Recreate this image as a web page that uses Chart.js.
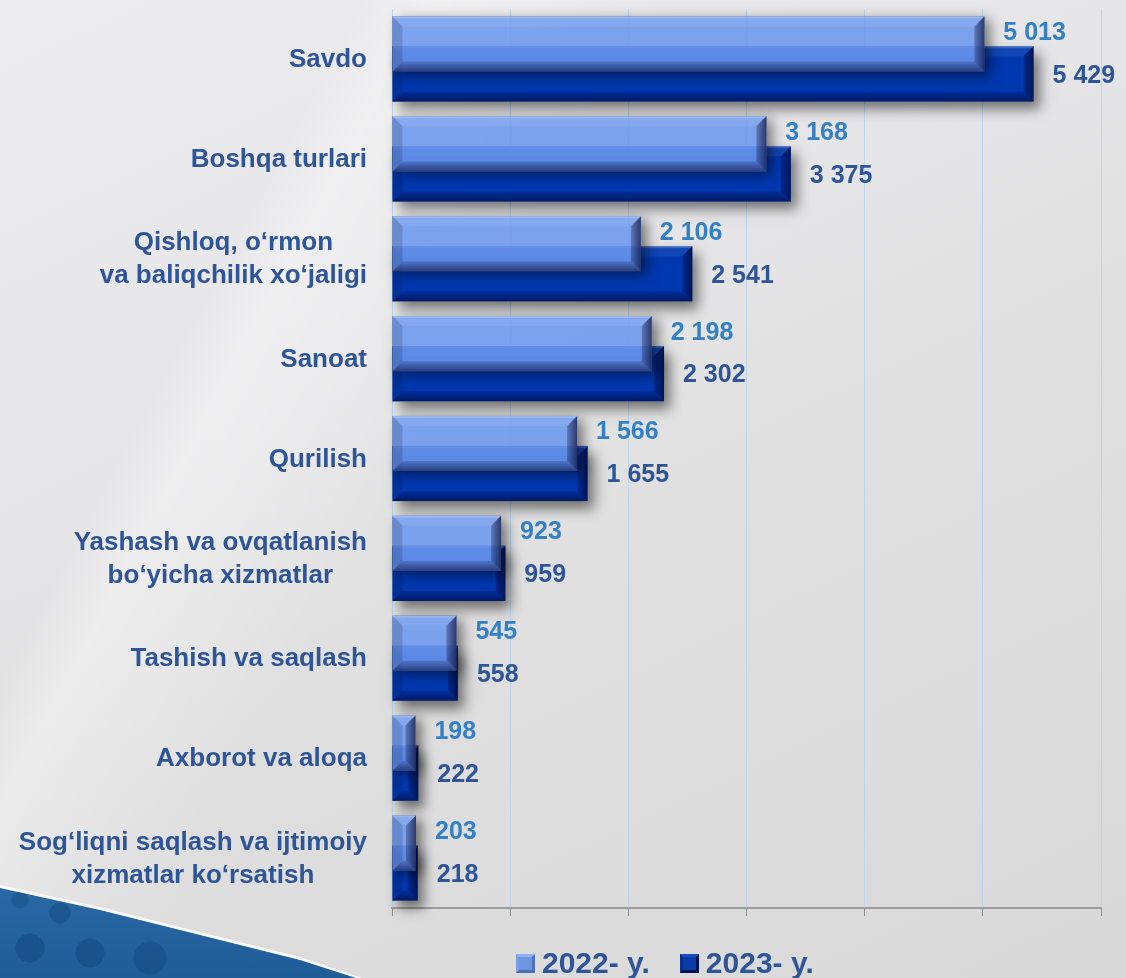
<!DOCTYPE html>
<html>
<head>
<meta charset="utf-8">
<script src="https://cdn.jsdelivr.net/npm/chart.js@4.4.1/dist/chart.umd.min.js"></script>
<style>
  html, body { margin: 0; padding: 0; }
  body {
    width: 1126px; height: 978px; position: relative; overflow: hidden;
    background: linear-gradient(155deg, #ececee 0%, #e6e6e8 35%, #dedede 60%, #d9d9d9 100%);
    font-family: "Liberation Sans", Arial, sans-serif;
  }
  #sheen {
    position: absolute; left: 0; top: 0; width: 1126px; height: 978px;
    background: linear-gradient(118deg, rgba(255,255,255,0) 0%, rgba(255,255,255,0) 22%, rgba(255,255,255,0.35) 26%, rgba(255,255,255,0) 40%);
  }
  #edge {
    position: absolute; left: 0; top: 876px; width: 420px; height: 102px;
    clip-path: polygon(0px 9px, 100px 31px, 200px 56px, 300px 81px, 362px 102px, 0px 102px);
    background: rgba(255,255,255,0.8);
  }
  #ornament {
    position: absolute; left: 0; top: 878px; width: 420px; height: 100px;
    clip-path: polygon(0px 10px, 100px 32px, 200px 57px, 300px 82px, 356px 100px, 0px 100px);
    background:
      radial-gradient(circle at 30px 70px, rgba(18,70,125,0.55) 0 14px, transparent 15px),
      radial-gradient(circle at 90px 75px, rgba(18,70,125,0.5) 0 14px, transparent 15px),
      radial-gradient(circle at 150px 80px, rgba(18,70,125,0.45) 0 16px, transparent 17px),
      radial-gradient(circle at 60px 35px, rgba(18,70,125,0.45) 0 10px, transparent 11px),
      radial-gradient(circle at 20px 22px, rgba(18,70,125,0.4) 0 8px, transparent 9px),
      linear-gradient(180deg, #2b6aa6 0%, #25639f 50%, #205c96 100%);
  }
  #wrap { position: absolute; left: 0; top: 0; width: 1126px; height: 978px; }
  #legend {
    position: absolute; left: 516px; top: 948px; height: 30px;
    display: flex; align-items: center;
    font: bold 30px "Liberation Sans", Arial, sans-serif; color: #2f5597; line-height: 30px;
  }
  .item { display: flex; align-items: center; }
  .box { width: 19px; height: 19px; margin-right: 7px; box-sizing: border-box; border: 3px solid; }
  .b1 { background: #6e95e2; border-color: #8fb2f2 #4d70b8 #4a6cb0 #7a9ee6; }
  .b2 { background: #0a3aa8; border-color: #1a4cc0 #00124a #001550 #0a2f8a; }
  .item2 { margin-left: 30px; }
</style>
</head>
<body>
<div id="sheen"></div>
<div id="edge"></div>
<div id="ornament"></div>
<div id="wrap"><canvas id="c"></canvas></div>
<div id="legend">
  <div class="item"><span class="box b1"></span><span id="l1"></span></div>
  <div class="item item2"><span class="box b2"></span><span id="l2"></span></div>
</div>
<script>
const categories = [
  ['Savdo'],
  ['Boshqa turlari'],
  ['Qishloq, o‘rmon', 'va baliqchilik xo‘jaligi'],
  ['Sanoat'],
  ['Qurilish'],
  ['Yashash va ovqatlanish', 'bo‘yicha xizmatlar'],
  ['Tashish va saqlash'],
  ['Axborot va aloqa'],
  ['Sog‘liqni saqlash va ijtimoiy', 'xizmatlar ko‘rsatish']
];
const seriesNames = ['2022- y.', '2023- y.'];
const values2022 = [5013, 3168, 2106, 2198, 1566, 923, 545, 198, 203];
const values2023 = [5429, 3375, 2541, 2302, 1655, 959, 558, 222, 218];
const xTicks = [0, 1000, 2000, 3000, 4000, 5000, 6000];

document.getElementById('l1').textContent = seriesNames[0];
document.getElementById('l2').textContent = seriesNames[1];

const FONT = '"Liberation Sans", Arial, sans-serif';
const fmt = v => String(v).replace(/\B(?=(\d{3})+(?!\d))/g, ' ');

function barRect(el) {
  const p = el.getProps(['x', 'y', 'base', 'height'], true);
  const l = Math.min(p.x, p.base), r = Math.max(p.x, p.base);
  return { l, r, t: p.y - p.height / 2, b: p.y + p.height / 2 };
}

const effects = {
  id: 'effects',
  beforeDatasetDraw(chart, args) {
    const ctx = chart.ctx;
    const W = chart.width, H = chart.height;
    args.meta.data.forEach(el => {
      const r = barRect(el);
      ctx.save();
      ctx.beginPath();
      ctx.rect(0, 0, W, H);
      ctx.rect(r.l, r.t, r.r - r.l, r.b - r.t);
      ctx.clip('evenodd');
      ctx.shadowColor = 'rgba(0,0,0,0.5)';
      ctx.shadowBlur = 12;
      ctx.shadowOffsetX = 6;
      ctx.shadowOffsetY = args.index === 0 ? 4 : 8;
      ctx.fillStyle = '#000';
      ctx.fillRect(r.l, r.t, r.r - r.l, r.b - r.t);
      ctx.restore();
    });
  },
  afterDatasetDraw(chart, args) {
    const ctx = chart.ctx;
    args.meta.data.forEach(el => {
      const r = barRect(el);
      const w = r.r - r.l, h = r.b - r.t;
      const bv = Math.min(10, w / 2, h / 2);
      ctx.save();
      // thin top highlight line
      ctx.fillStyle = 'rgba(255,255,255,0.18)';
      ctx.fillRect(r.l, r.t, w, 2);
      // top bevel
      ctx.beginPath();
      ctx.moveTo(r.l, r.t); ctx.lineTo(r.r, r.t); ctx.lineTo(r.r - bv, r.t + bv); ctx.lineTo(r.l + bv, r.t + bv); ctx.closePath();
      ctx.fillStyle = 'rgba(255,255,255,0.07)';
      ctx.fill();
      // left bevel
      ctx.beginPath();
      ctx.moveTo(r.l, r.t); ctx.lineTo(r.l + bv, r.t + bv); ctx.lineTo(r.l + bv, r.b - bv); ctx.lineTo(r.l, r.b); ctx.closePath();
      ctx.fillStyle = 'rgba(0,0,30,0.14)';
      ctx.fill();
      // bottom bevel
      ctx.beginPath();
      ctx.moveTo(r.l, r.b); ctx.lineTo(r.r, r.b); ctx.lineTo(r.r - bv, r.b - bv); ctx.lineTo(r.l + bv, r.b - bv); ctx.closePath();
      let g = ctx.createLinearGradient(0, r.b - bv, 0, r.b);
      g.addColorStop(0, 'rgba(0,0,40,0.15)');
      g.addColorStop(1, 'rgba(0,0,40,0.55)');
      ctx.fillStyle = g;
      ctx.fill();
      // right bevel
      ctx.beginPath();
      ctx.moveTo(r.r, r.t); ctx.lineTo(r.r, r.b); ctx.lineTo(r.r - bv, r.b - bv); ctx.lineTo(r.r - bv, r.t + bv); ctx.closePath();
      g = ctx.createLinearGradient(r.r - bv, 0, r.r, 0);
      g.addColorStop(0, 'rgba(0,0,40,0.25)');
      g.addColorStop(1, 'rgba(0,0,40,0.65)');
      ctx.fillStyle = g;
      ctx.fill();
      ctx.restore();
    });
  },
  afterDatasetsDraw(chart) {
    const ctx = chart.ctx;
    ctx.save();
    ctx.font = 'bold 25px ' + FONT;
    ctx.textAlign = 'left';
    ctx.textBaseline = 'middle';
    chart.data.datasets.forEach((ds, di) => {
      const meta = chart.getDatasetMeta(di);
      meta.data.forEach((el, i) => {
        const r = barRect(el);
        const cy = (r.t + r.b) / 2 + (di === 0 ? -11 : 2);
        ctx.fillStyle = di === 0 ? '#3380c4' : '#2f5597';
        ctx.fillText(fmt(ds.data[i]), r.r + 19, cy);
      });
    });
    ctx.restore();
  },
  afterDraw(chart) {
    const ctx = chart.ctx;
    const ys = chart.scales.y;
    const rightEdge = 367, lh = 33;
    ctx.save();
    ctx.font = 'bold 26px ' + FONT;
    ctx.fillStyle = '#2f5597';
    ctx.textAlign = 'center';
    ctx.textBaseline = 'middle';
    categories.forEach((lines, i) => {
      const cy = ys.getPixelForValue(i);
      const maxW = Math.max(...lines.map(s => ctx.measureText(s).width));
      const cx = rightEdge - maxW / 2;
      lines.forEach((s, k) => {
        ctx.fillText(s, cx, cy + (k - (lines.length - 1) / 2) * lh + 1);
      });
    });
    ctx.restore();
  }
};

new Chart(document.getElementById('c'), {
  type: 'bar',
  data: {
    labels: categories,
    datasets: [
      { label: seriesNames[0], data: values2022, backgroundColor: 'rgba(106,150,238,0.86)', borderWidth: 0 },
      { label: seriesNames[1], data: values2023, backgroundColor: '#0038b0', borderWidth: 0 }
    ]
  },
  options: {
    indexAxis: 'y',
    responsive: true,
    maintainAspectRatio: false,
    animation: false,
    categoryPercentage: 0.6,
    barPercentage: 1.84,
    layout: { padding: { left: 392, right: 25, top: 9, bottom: 62 } },
    plugins: { legend: { display: false }, tooltip: { enabled: false } },
    scales: {
      x: {
        min: xTicks[0], max: xTicks[xTicks.length - 1],
        afterBuildTicks: s => { s.ticks = xTicks.map(v => ({ value: v })); },
        ticks: { display: false },
        grid: { color: 'rgba(185,212,240,0.9)', lineWidth: 1, tickColor: '#8c8c8c', tickLength: 8, drawTicks: true },
        border: { display: true, color: '#9c9c9c', width: 2 }
      },
      y: { display: false }
    }
  },
  plugins: [effects]
});
</script>
</body>
</html>
